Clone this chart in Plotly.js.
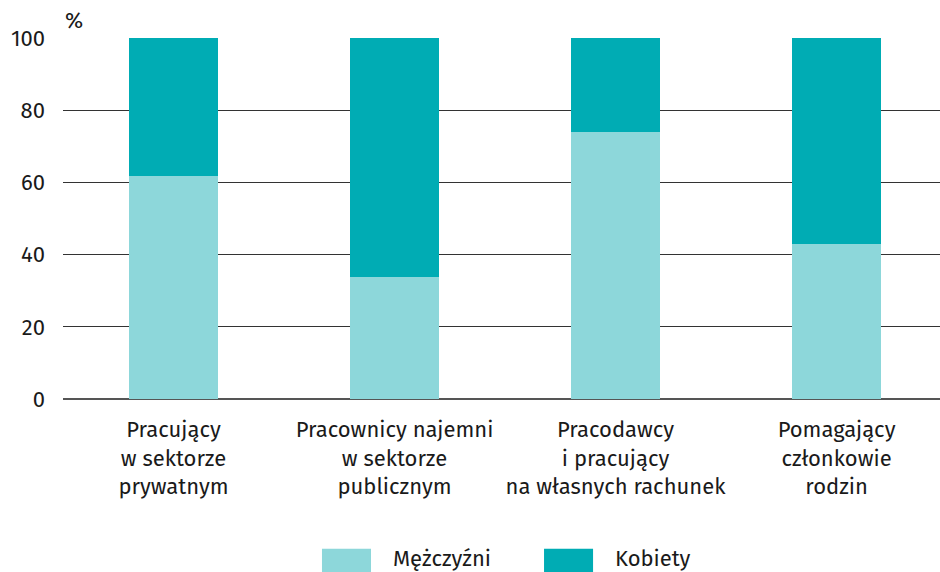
<!DOCTYPE html>
<html>
<head>
<meta charset="utf-8">
<script src="https://cdn.plot.ly/plotly-3.0.1.min.js"></script>
<style>body{margin:0;padding:0;background:#fff;} #chart{width:940px;height:572px;}</style>
</head>
<body>
<div id="chart"></div>
<script>
const categories = [
  "Pracujący<br>w sektorze<br>prywatnym",
  "Pracownicy najemni<br>w sektorze<br>publicznym",
  "Pracodawcy<br>i pracujący<br>na własnych rachunek",
  "Pomagający<br>członkowie<br>rodzin"
];
const men = [61.7, 33.7, 74.1, 42.9];
const women = [38.3, 66.3, 25.9, 57.1];
const seriesNames = ["Mężczyźni", "Kobiety"];
const colors = ["#8dd7da", "#00acb4"];
const yTicks = [0, 20, 40, 60, 80, 100];

const font = "'Fira Sans', 'Noto Sans', 'Open Sans', sans-serif";
const traces = seriesNames.map((n, i) => ({
  type: "bar", x: categories, y: i === 0 ? men : women, name: n,
  marker: {color: colors[i]}, showlegend: false
}));

// custom legend (wide swatches) in paper coordinates
const legX = [0.2953, 0.5485];
const shapes = legX.map((x0, i) => ({
  type: "rect", xref: "paper", yref: "paper", x0: x0, x1: x0 + 0.0559,
  y0: -0.415, y1: -0.49, fillcolor: colors[i], line: {width: 0}, layer: "above"
}));
const legAnn = legX.map((x0, i) => ({
  text: seriesNames[i], xref: "paper", yref: "paper", x: x0 + 0.0784, y: -0.441,
  xanchor: "left", yanchor: "middle", showarrow: false, font: {size: 22, color: "#1a1a1a"}
}));

const layout = {
  width: 940, height: 572,
  margin: {l: 63, r: 0, t: 38, b: 173},
  barmode: "stack",
  bargap: 0.6,
  paper_bgcolor: "#fff", plot_bgcolor: "#fff",
  font: {family: font, size: 22, color: "#1a1a1a"},
  xaxis: {range: [-0.5, 3.468], showgrid: false, showline: false, ticks: "",
          tickfont: {size: 22}, automargin: false, ticklabelstandoff: 15},
  yaxis: {range: [0, 100], tickvals: yTicks, showgrid: true, gridcolor: "#333", gridwidth: 1,
          zeroline: true, zerolinecolor: "#555", zerolinewidth: 1.5, ticks: "", ticklen: 0,
          tickfont: {size: 22}, automargin: false, ticklabelstandoff: 17},
  showlegend: false,
  shapes: shapes,
  annotations: [
    {text: "%", xref: "paper", yref: "paper", x: 0, y: 1, xanchor: "left", yanchor: "bottom",
     yshift: 2, showarrow: false, font: {size: 22}}
  ].concat(legAnn)
};
Plotly.newPlot("chart", traces, layout, {displayModeBar: false, staticPlot: true});
</script>
</body>
</html>
